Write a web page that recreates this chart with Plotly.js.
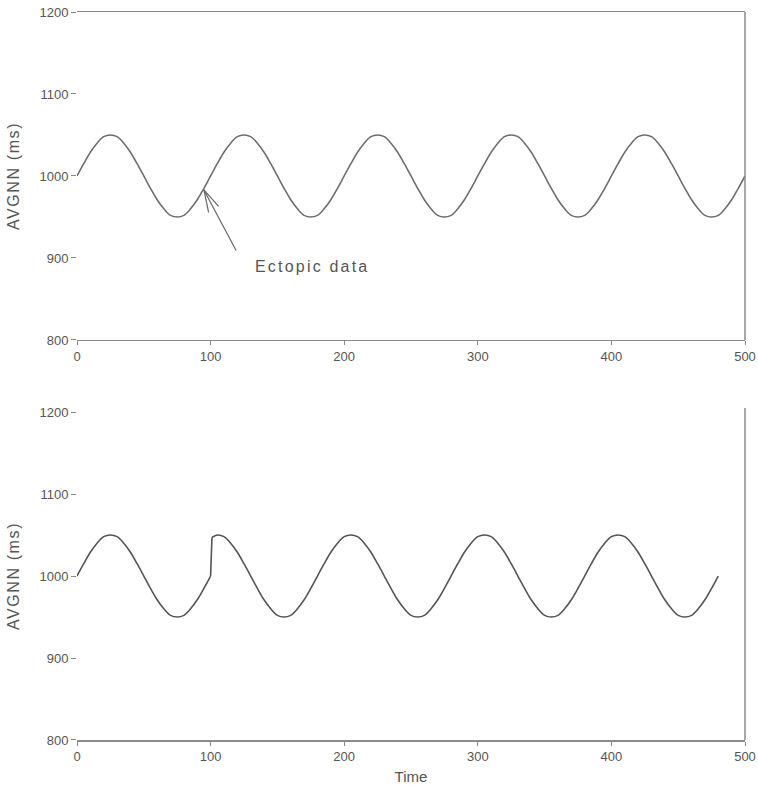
<!DOCTYPE html>
<html>
<head>
<meta charset="utf-8">
<script src="https://cdn.plot.ly/plotly-3.0.1.min.js"></script>
<style>
  html, body { margin: 0; padding: 0; background: #fff; }
  #chart { width: 758px; height: 785px; }
  .annotation-text { letter-spacing: 2.2px; }
  .ytitle, .y2title { letter-spacing: 1.6px; }
</style>
</head>
<body>
<div id="chart"></div>
<script>
// ---- data ----
// Top panel: original AVGNN series (with ectopic beat region around t≈90-140)
var topTime = [0,5,10,15,20,25,30,35,40,45,50,55,60,65,70,75,80,85,90,95,
  100,105,110,115,120,125,130,135,140,145,150,155,160,165,170,175,180,185,190,195,
  200,205,210,215,220,225,230,235,240,245,250,255,260,265,270,275,280,285,290,295,
  300,305,310,315,320,325,330,335,340,345,350,355,360,365,370,375,380,385,390,395,
  400,405,410,415,420,425,430,435,440,445,450,455,460,465,470,475,480,485,490,495,500];
var topAvgnn = [1000,1015,1029,1040,1048,1050,1048,1040,1029,1015,1000,985,971,960,952,950,952,960,971,985,
  1000,1015,1029,1040,1048,1050,1048,1040,1029,1015,1000,985,971,960,952,950,952,960,971,985,
  1000,1015,1029,1040,1048,1050,1048,1040,1029,1015,1000,985,971,960,952,950,952,960,971,985,
  1000,1015,1029,1040,1048,1050,1048,1040,1029,1015,1000,985,971,960,952,950,952,960,971,985,
  1000,1015,1029,1040,1048,1050,1048,1040,1029,1015,1000,985,971,960,952,950,952,960,971,985,1000];

// Bottom panel: series after the ectopic data was removed (jump at t≈100)
var bottomTime = [0,5,10,15,20,25,30,35,40,45,50,55,60,65,70,75,80,85,90,95,100,101,
  105,110,115,120,125,130,135,140,145,150,155,160,165,170,175,180,185,190,195,200,
  205,210,215,220,225,230,235,240,245,250,255,260,265,270,275,280,285,290,295,300,
  305,310,315,320,325,330,335,340,345,350,355,360,365,370,375,380,385,390,395,400,
  405,410,415,420,425,430,435,440,445,450,455,460,465,470,475,480];
var bottomAvgnn = [1000,1015,1029,1040,1048,1050,1048,1040,1029,1015,1000,985,971,960,952,950,952,960,971,985,1000,1047,
  1050,1048,1040,1029,1015,1000,985,971,960,952,950,952,960,971,985,1000,1015,1029,1040,1048,
  1050,1048,1040,1029,1015,1000,985,971,960,952,950,952,960,971,985,1000,1015,1029,1040,1048,
  1050,1048,1040,1029,1015,1000,985,971,960,952,950,952,960,971,985,1000,1015,1029,1040,1048,
  1050,1048,1040,1029,1015,1000,985,971,960,952,950,952,960,971,985,1000];
var jumpIndex = 20; // last sample before the removed ectopic stretch

var xTicks = [0,100,200,300,400,500];
var yTicks = [800,900,1000,1100,1200];
var yTitle = 'AVGNN (ms)';
var xTitle = 'Time';
var noteText = 'Ectopic data';

// ---- chart ----
var font = 'Arial, "Liberation Sans", Helvetica, sans-serif';
var axisGray = '#8a8a8a';
var textGray = '#555';
var botLine = { color: '#555', width: 1.6, shape: 'spline', smoothing: 0.9 };

var traces = [
  { x: topTime, y: topAvgnn, xaxis: 'x', yaxis: 'y', mode: 'lines',
    line: { color: '#6e6e6e', width: 1.6, shape: 'spline', smoothing: 1 }, hoverinfo: 'skip' },
  // bottom: before the gap
  { x: bottomTime.slice(0, jumpIndex + 1), y: bottomAvgnn.slice(0, jumpIndex + 1),
    xaxis: 'x2', yaxis: 'y2', mode: 'lines', line: botLine, hoverinfo: 'skip' },
  // bottom: the jump
  { x: bottomTime.slice(jumpIndex, jumpIndex + 2), y: bottomAvgnn.slice(jumpIndex, jumpIndex + 2),
    xaxis: 'x2', yaxis: 'y2', mode: 'lines', line: { color: '#555', width: 1.6 }, hoverinfo: 'skip' },
  // bottom: after the gap
  { x: bottomTime.slice(jumpIndex + 1), y: bottomAvgnn.slice(jumpIndex + 1),
    xaxis: 'x2', yaxis: 'y2', mode: 'lines', line: botLine, hoverinfo: 'skip' }
];

function xAxis(anchor, mirror, title) {
  var a = {
    anchor: anchor, domain: [0, 1], range: [0, 500], tickvals: xTicks,
    showline: true, linecolor: axisGray, linewidth: 1.5, mirror: mirror,
    ticks: 'outside', ticklen: 4, tickcolor: axisGray, tickwidth: 1,
    showgrid: false, zeroline: false,
    tickfont: { family: font, size: 13, color: textGray }
  };
  if (title) a.title = { text: title, font: { family: font, size: 15, color: textGray }, standoff: 8 };
  return a;
}
function yAxis(anchor, domain) {
  return {
    anchor: anchor, domain: domain, range: [800, 1200], tickvals: yTicks,
    showline: false, ticks: 'outside', ticklen: 5, tickcolor: axisGray, tickwidth: 1,
    showgrid: false, zeroline: false,
    tickfont: { family: font, size: 13, color: textGray },
    title: { text: yTitle, font: { family: font, size: 16, color: textGray }, standoff: 15 }
  };
}

var layout = {
  width: 758, height: 785,
  margin: { l: 77, r: 13, t: 12, b: 45 },
  paper_bgcolor: '#fff', plot_bgcolor: '#fff',
  showlegend: false,
  xaxis: xAxis('y', true, null),
  yaxis: yAxis('x', [0.5495, 1]),
  xaxis2: xAxis('y2', false, xTitle),
  yaxis2: yAxis('x2', [0, 0.4505]),
  shapes: [
    { type: 'line', xref: 'x domain', yref: 'y domain', x0: 1, x1: 1, y0: 0, y1: 1,
      line: { color: axisGray, width: 1.5 } },
    { type: 'line', xref: 'x2 domain', yref: 'y2 domain', x0: 1, x1: 1, y0: 0, y1: 1.012,
      line: { color: axisGray, width: 1.5 } }
  ],
  annotations: [
    { xref: 'x', yref: 'y', x: 95, y: 983, text: '', showarrow: true, arrowhead: 0,
      ax: 33, ay: 62, arrowwidth: 1.2, arrowcolor: '#666' },
    { xref: 'x', yref: 'y', x: 95, y: 983, text: '', showarrow: true, arrowhead: 0,
      ax: 5, ay: 24, arrowwidth: 1.2, arrowcolor: '#666' },
    { xref: 'x', yref: 'y', x: 95, y: 983, text: '', showarrow: true, arrowhead: 0,
      ax: 16, ay: 18, arrowwidth: 1.2, arrowcolor: '#666' },
    { xref: 'x', yref: 'y', x: 176, y: 890, text: noteText, showarrow: false,
      xanchor: 'center', yanchor: 'middle',
      font: { family: font, size: 16, color: textGray } }
  ]
};

Plotly.newPlot('chart', traces, layout, { displayModeBar: false, staticPlot: true });
</script>
</body>
</html>
